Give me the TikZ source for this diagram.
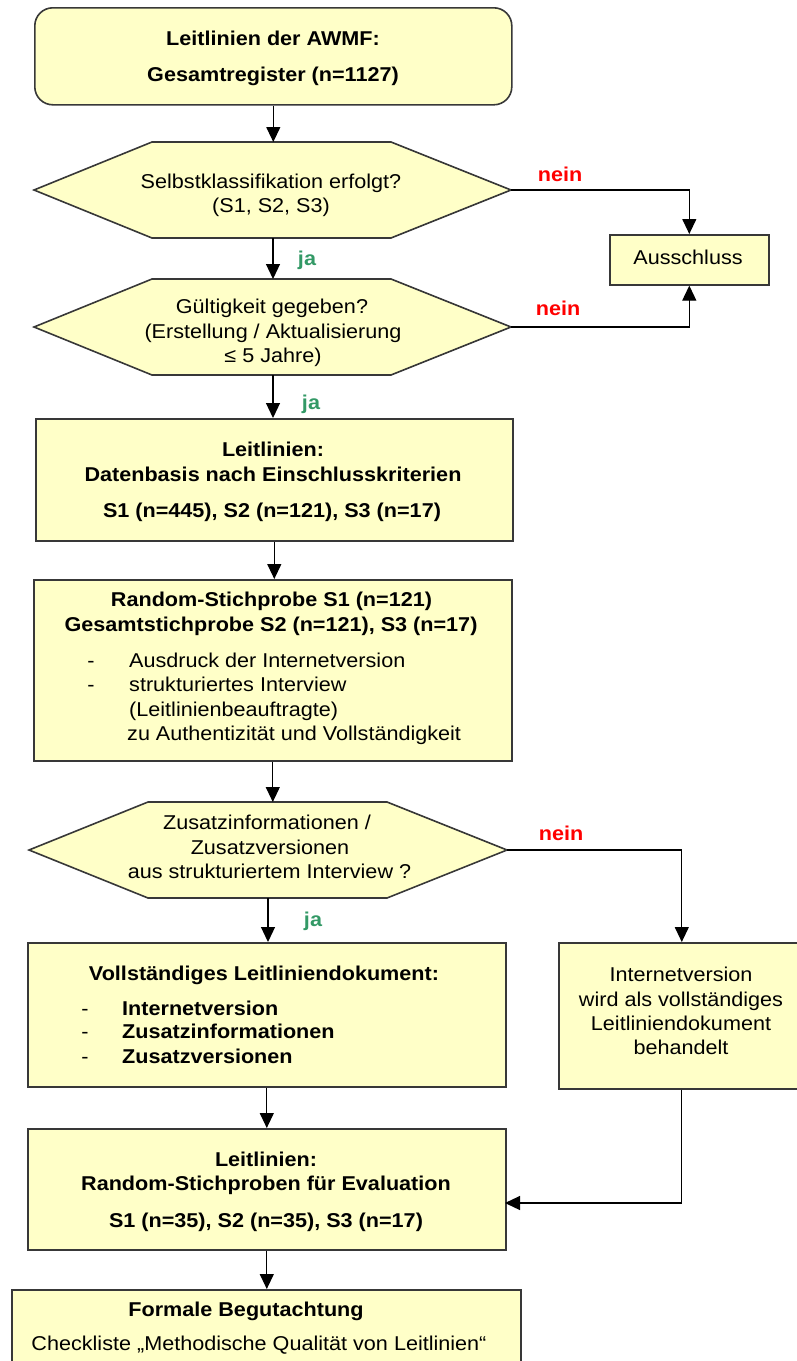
\documentclass[tikz,border=0pt]{standalone}
\usepackage{fontspec}
\setmainfont{Liberation Sans}[FakeStretch=1.08]
\usetikzlibrary{arrows.meta}
\definecolor{boxfill}{HTML}{FFFFC8}
\definecolor{jagreen}{HTML}{339966}
\definecolor{neinred}{HTML}{FF0000}
\definecolor{edgegray}{HTML}{383838}
\begin{document}
\begin{tikzpicture}[x=1pt,y=-1pt,
  shapebox/.style={draw=edgegray, line width=1.6pt, fill=boxfill},
  rbox/.style={shapebox, rectangle, inner sep=0pt, anchor=north west},
  conn/.style={draw=black, line width=1.2pt, -{Triangle[width=14pt,length=15pt]}},
  t/.style={inner sep=0pt, anchor=base, font=\fontsize{20}{24}\selectfont},
  tb/.style={t, font=\fontsize{20}{24}\selectfont\bfseries},
  tl/.style={t, anchor=base west},
  tbl/.style={tb, anchor=base west},
  ja/.style={tb, text=jagreen},
  nein/.style={tb, text=neinred}]
\useasboundingbox (0,0) rectangle (797,1361);

% boxes
\node[rbox, rounded corners=18pt, minimum width=477pt, minimum height=97pt] (top) at (34,7) {};
\node[rbox, minimum width=159pt, minimum height=50pt] (aus) at (609,234) {};
\node[rbox, minimum width=477pt, minimum height=122pt] (box3) at (35,418) {};
\node[rbox, minimum width=478pt, minimum height=181pt] (box4) at (33,579) {};
\node[rbox, minimum width=478pt, minimum height=144pt] (box5) at (27,942) {};
\node[rbox, minimum width=246pt, minimum height=146pt] (box6) at (558,942) {};
\node[rbox, minimum width=478pt, minimum height=121pt] (box7) at (27,1128) {};
\node[rbox, minimum width=509pt, minimum height=90pt] (box8) at (11,1289) {};

% decision hexagons
\draw[shapebox] (34,190) -- (152,142) -- (391,142) -- (511,190) -- (391,238) -- (152,238) -- cycle;
\coordinate (d1n) at (273,142);
\coordinate (d1s) at (273,238);
\coordinate (d1e) at (511,190);
\draw[shapebox] (34,327) -- (152,279) -- (391,279) -- (511,327) -- (391,375) -- (152,375) -- cycle;
\coordinate (d2n) at (273,279);
\coordinate (d2s) at (273,375);
\coordinate (d2e) at (511,327);
\draw[shapebox] (29,850) -- (148,802) -- (387,802) -- (507,850) -- (387,898) -- (148,898) -- cycle;
\coordinate (d3n) at (268,802);
\coordinate (d3s) at (268,898);
\coordinate (d3e) at (507,850);
\coordinate (b7in) at (505,1203);

% texts
\node[tb] (t1a) at (273,45.7) {Leitlinien der AWMF:};
\node[tb] (t1b) at (273,81.7) {Gesamtregister (n=1127)};

\node[t] (q1a) at (271,188.3) {Selbstklassifikation erfolgt?};
\node[t] (q1b) at (271,212) {(S1, S2, S3)};
\node[nein] (n1) at (560,181) {nein};
\node[t] (taus) at (688,264) {Ausschluss};
\node[ja] (j1) at (307,265) {ja};

\node[t] (q2a) at (272,313) {Gültigkeit gegeben?};
\node[t] (q2b) at (273,338) {(Erstellung / Aktualisierung};
\node[t] (q2c) at (273,362) {≤ 5 Jahre)};
\node[nein] (n2) at (558,315) {nein};
\node[ja] (j2) at (311,409) {ja};

\node[tb] (b3a) at (273,456.7) {Leitlinien:};
\node[tb] (b3b) at (273,481.7) {Datenbasis nach Einschlusskriterien};
\node[tb] (b3c) at (272,517) {S1 (n=445), S2 (n=121), S3 (n=17)};

\node[tb] (b4a) at (271.5,606.7) {Random-Stichprobe S1 (n=121)};
\node[tb] (b4b) at (271,631.7) {Gesamtstichprobe S2 (n=121), S3 (n=17)};
\node[t] (b4d1) at (91,667.7) {-};
\node[tl] (b4c) at (129,667.7) {Ausdruck der Internetversion};
\node[t] (b4d2) at (91,691.7) {-};
\node[tl] (b4e) at (129,691.7) {strukturiertes Interview};
\node[tl] (b4f) at (129,716) {(Leitlinienbeauftragte)};
\node[tl] (b4g) at (127,740) {zu Authentizität und Vollständigkeit};

\node[t] (q3a) at (267,829.3) {Zusatzinformationen /};
\node[t] (q3b) at (270,854) {Zusatzversionen};
\node[t] (q3c) at (269.5,878.3) {aus strukturiertem Interview ?};
\node[nein] (n3) at (561,840.7) {nein};
\node[ja] (j3) at (313,926) {ja};

\node[tb] (b5a) at (264,980) {Vollständiges Leitliniendokument:};
\node[t] (b5d1) at (85,1015) {-};
\node[tbl] (b5b) at (122,1015) {Internetversion};
\node[t] (b5d2) at (85,1038.3) {-};
\node[tbl] (b5c) at (122,1038.3) {Zusatzinformationen};
\node[t] (b5d3) at (85,1063.3) {-};
\node[tbl] (b5e) at (122,1063.3) {Zusatzversionen};

\node[t] (b6a) at (681,981.7) {Internetversion};
\node[t] (b6b) at (681,1006.7) {wird als vollständiges};
\node[t] (b6c) at (681,1030.7) {Leitliniendokument};
\node[t] (b6d) at (681,1054.3) {behandelt};

\node[tb] (b7a) at (266,1166.7) {Leitlinien:};
\node[tb] (b7b) at (266,1190.7) {Random-Stichproben für Evaluation};
\node[tb] (b7c) at (266,1227.3) {S1 (n=35), S2 (n=35), S3 (n=17)};

\node[tb] (b8a) at (246,1316.7) {Formale Begutachtung};
\node[t] (b8b) at (259,1350.7) {Checkliste „Methodische Qualität von Leitlinien“};

% connectors
\draw[conn] (top.south) -- (top.south |- d1n);
\draw[conn] (d1s) -- (d2n);
\draw[conn] (d1e) -| (aus.north);
\draw[conn] (d2e) -| (aus.south);
\draw[conn] (d2s) -- (d2s |- box3.north);
\draw[conn] (box3.south) -- (box3.south |- box4.north);
\draw[conn] (box4.south) -- (box4.south |- d3n);
\draw[conn] (d3e) -| (box6.north);
\draw[conn] (d3s) -- (d3s |- box5.north);
\draw[conn] (box5.south) -- (box5.south |- box7.north);
\draw[conn] (box6.south) |- (b7in);
\draw[conn] (box7.south) -- (box7.south |- box8.north);
\end{tikzpicture}
\end{document}
